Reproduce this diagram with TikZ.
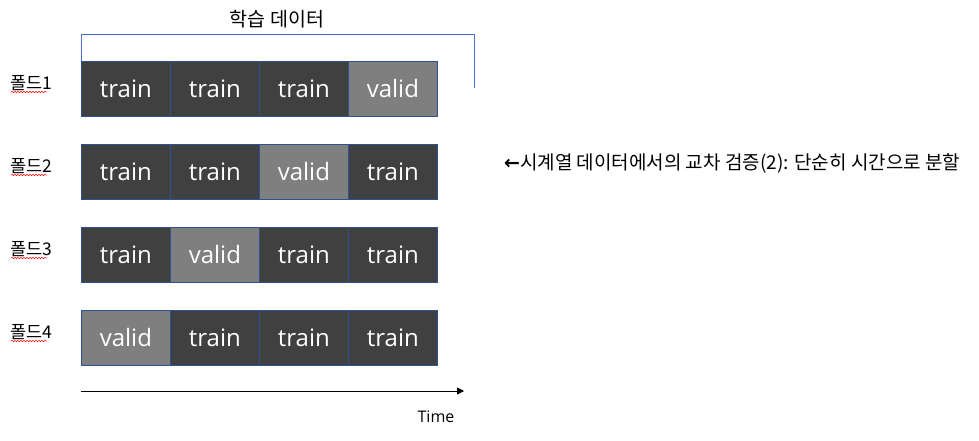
\documentclass[tikz,border=0pt]{standalone}
\usepackage{fontspec}
\setmainfont{Open Sans}
\newfontfamily\kr{Noto Sans CJK KR}
\usetikzlibrary{decorations.pathmorphing,arrows.meta}
\definecolor{traincol}{HTML}{404040}
\definecolor{validcol}{HTML}{7F7F7F}
\definecolor{edgecol}{HTML}{2F528F}
\definecolor{brackcol}{HTML}{4472C4}
\tikzset{
  cell/.style={draw=edgecol, line width=0.8pt, minimum width=89pt, minimum height=55pt, inner sep=0pt, anchor=north west, text=white, font=\fontsize{24}{28}\selectfont},
  traincell/.style={cell, fill=traincol},
  validcell/.style={cell, fill=validcol},
  foldlabel/.style={anchor=west, inner sep=0pt, font=\kr\fontsize{17.5}{20}\selectfont},
  squig/.style={draw=red, line width=0.5pt, decorate, decoration={snake, amplitude=0.7pt, segment length=3pt}}
}
\begin{document}
\begin{tikzpicture}[x=1pt,y=-1pt]
\useasboundingbox (0,0) rectangle (979,441);
% rows
\foreach \r/\y/\v in {1/61/4,2/144/3,3/227/2,4/310/1}{
  \foreach \c in {1,2,3,4}{
    \pgfmathtruncatemacro{\xx}{81+(\c-1)*89}
    \ifnum\c=\v
      \node[validcell] (c\r\c) at (\xx,\y) {valid};
    \else
      \node[traincell] (c\r\c) at (\xx,\y) {train};
    \fi
  }
  \node[foldlabel] (f\r) at (10,\y+22) {폴드\r};
  \draw[squig] (11,\y+31) -- (47,\y+31);
}
% bracket
\coordinate (bl) at (81,34);
\coordinate (br) at (474,34);
\coordinate (brb) at (474,88);
\draw[brackcol, line width=0.8pt] (c11.north west) -- (bl) -- (br) -- (brb);
\node[font=\kr\fontsize{19.5}{22}\selectfont, inner sep=0pt] (train) at (277,19) {학습 데이터};
% time axis
\coordinate (t0) at (81,391);
\coordinate (t1) at (464,391);
\draw[line width=0.8pt, -{Triangle[length=7pt,width=7pt]}] (t0) -- (t1);
\node[font=\fontsize{16}{18}\selectfont, inner sep=0pt] (time) at (436,417) {Time};
% caption
\node[anchor=west, font=\kr\fontsize{19}{22}\selectfont, inner sep=0pt] (cap) at (504,163) {{\fontspec{DejaVu Sans}\bfseries ←}시계열 데이터에서의 교차 검증(2): 단순히 시간으로 분할};
\end{tikzpicture}
\end{document}
